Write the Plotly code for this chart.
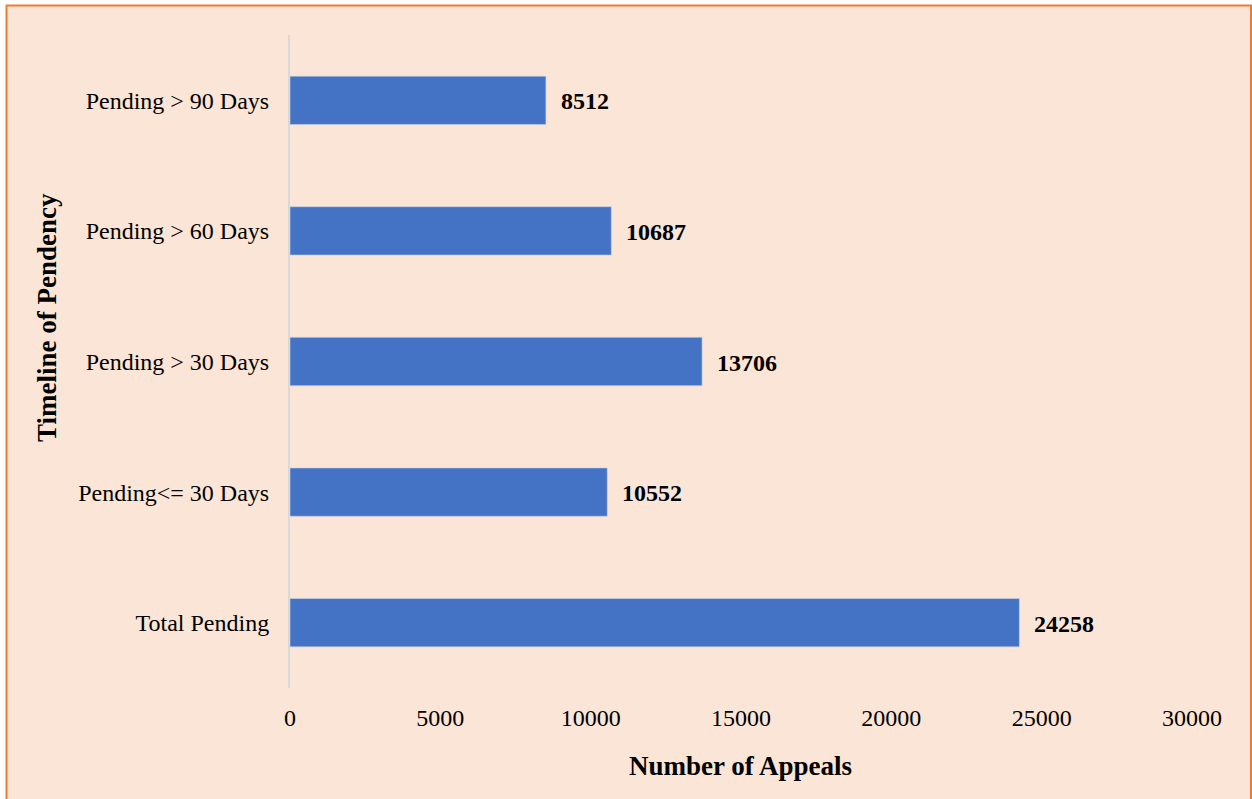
import plotly.graph_objects as go

categories = ["Total Pending", "Pending<= 30 Days", "Pending > 30 Days", "Pending > 60 Days", "Pending > 90 Days"]
values = [24258, 10552, 13706, 10687, 8512]
x_ticks = [0, 5000, 10000, 15000, 20000, 25000, 30000]

FONT = "Liberation Serif, Times New Roman, serif"
W, H = 1252, 799
L, R, T, B = 290, 60, 35, 111
pw, ph = W - L - R, H - T - B

def px_to_paper_x(px):
    return (px - L) / pw

def px_to_paper_y(py):
    return (H - B - py) / ph

fig = go.Figure()
fig.add_trace(go.Bar(
    x=values, y=categories, orientation="h",
    marker=dict(color="#4472C4", line=dict(color="#c9d4ea", width=0.6)),
    width=0.37, hoverinfo="x+y",
))

for c, v in zip(categories, values):
    fig.add_annotation(x=v, y=c, text=f"<b>{v}</b>", showarrow=False,
                       xanchor="left", xshift=13, yshift=-1,
                       font=dict(family=FONT, size=24, color="black"))

# background panel with orange border
fig.add_shape(type="rect", xref="paper", yref="paper",
              x0=px_to_paper_x(6.5), x1=px_to_paper_x(1251),
              y0=px_to_paper_y(810), y1=px_to_paper_y(5.5),
              fillcolor="#FBE5D6", line=dict(color="#ED7D31", width=2),
              layer="below")

# axis titles
fig.add_annotation(xref="paper", yref="paper",
                   x=px_to_paper_x(740), y=px_to_paper_y(766),
                   text="<b>Number of Appeals</b>", showarrow=False,
                   xanchor="center", yanchor="middle",
                   font=dict(family=FONT, size=27, color="black"))
fig.add_annotation(xref="paper", yref="paper",
                   x=px_to_paper_x(47), y=px_to_paper_y(318),
                   text="<b>Timeline of Pendency</b>", showarrow=False,
                   textangle=-90, xanchor="center", yanchor="middle",
                   font=dict(family=FONT, size=27, color="black"))

fig.update_layout(
    width=W, height=H,
    margin=dict(l=L, r=R, t=T, b=B),
    paper_bgcolor="white",
    plot_bgcolor="rgba(0,0,0,0)",
    showlegend=False,
    font=dict(family=FONT, color="black"),
    bargap=0.63,
)
fig.update_xaxes(range=[0, 30000], tickvals=x_ticks, ticktext=[str(t) for t in x_ticks],
                 showgrid=False, zeroline=False, showline=False,
                 ticks="outside", ticklen=8, tickcolor="rgba(0,0,0,0)",
                 tickfont=dict(family=FONT, size=24, color="black"))
fig.update_yaxes(categoryorder="array", categoryarray=categories,
                 range=[-0.5, 4.5],
                 showgrid=False, zeroline=False, showline=True,
                 linecolor="#D9D9D9", linewidth=2,
                 ticks="outside", ticklen=14, tickcolor="rgba(0,0,0,0)",
                 tickfont=dict(family=FONT, size=24, color="black"))

fig.write_html("out.html")
